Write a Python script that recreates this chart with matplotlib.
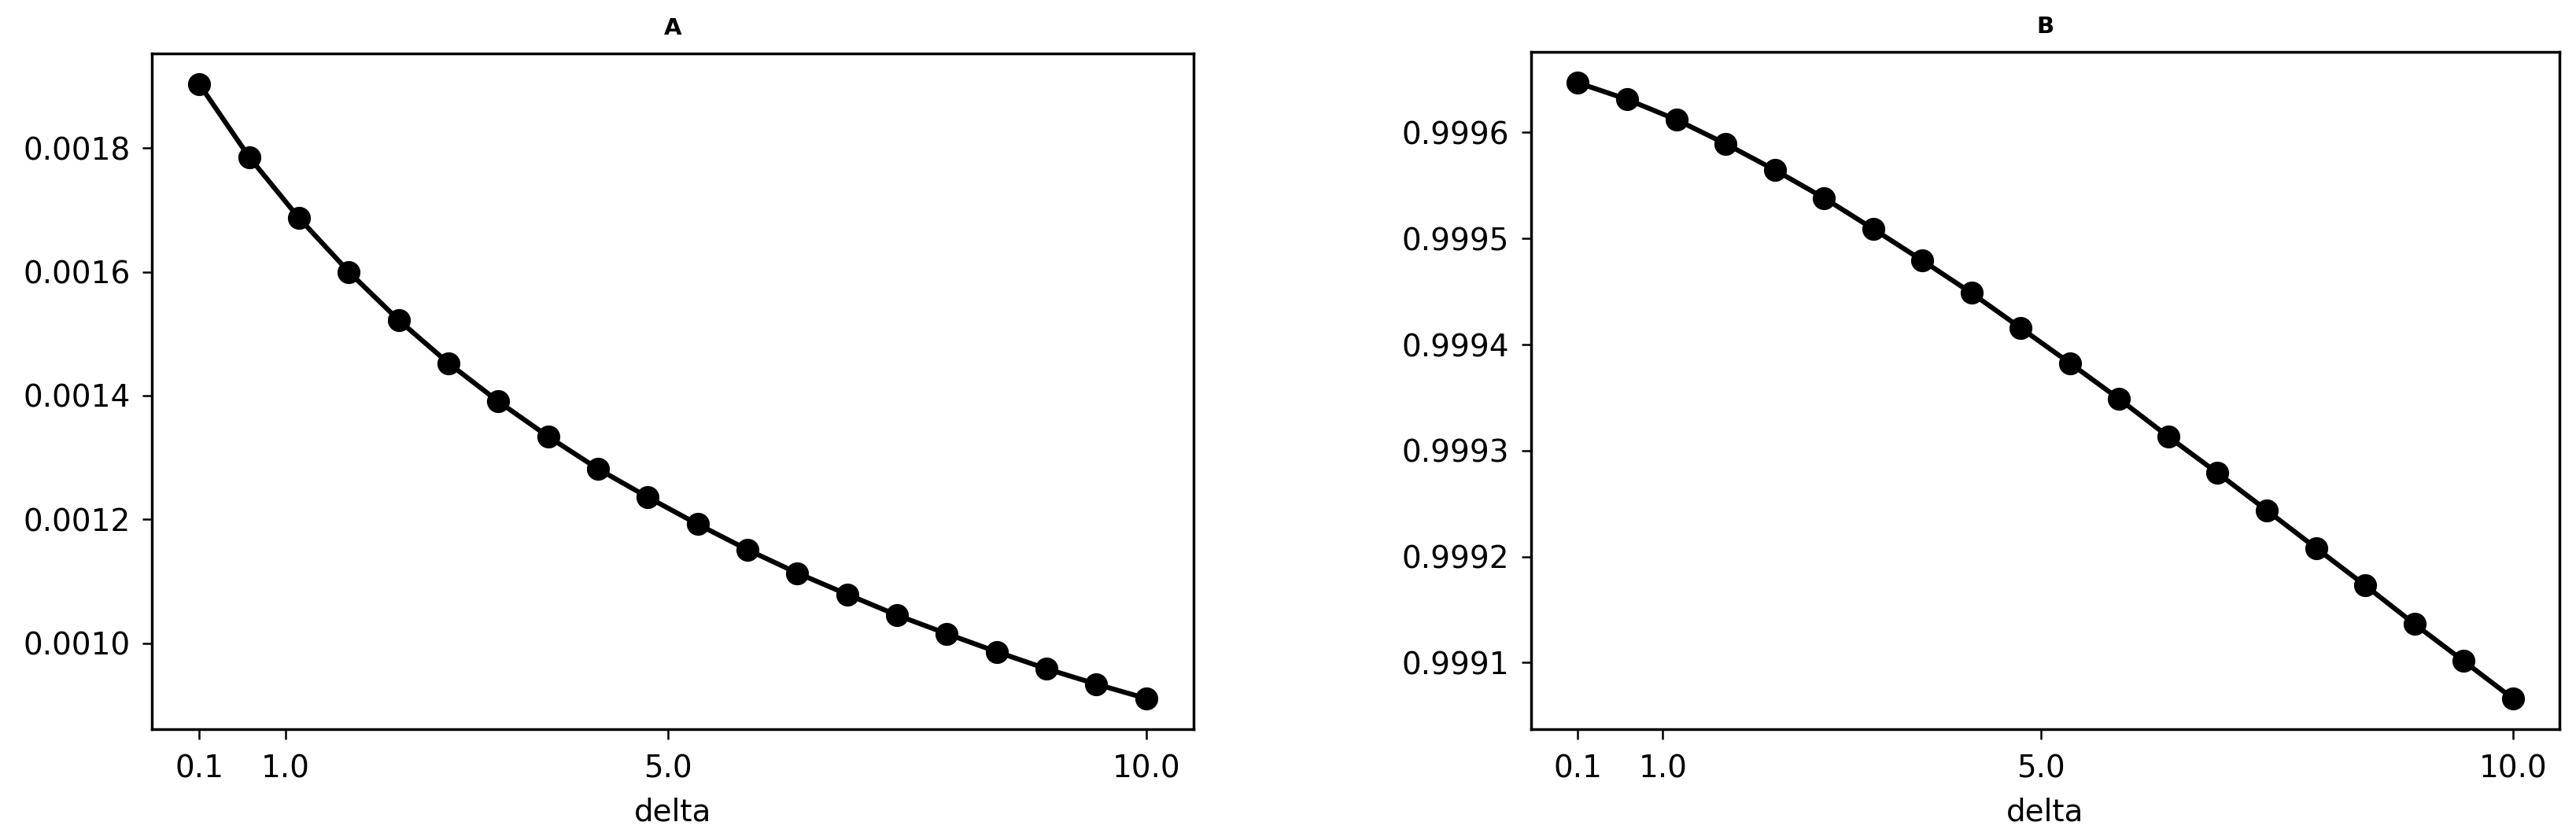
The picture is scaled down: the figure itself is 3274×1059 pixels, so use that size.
import matplotlib
matplotlib.use('Agg')
import matplotlib.pyplot as plt
from matplotlib.ticker import FormatStrFormatter

delta = [0.1, 0.621, 1.142, 1.663, 2.184, 2.705, 3.226, 3.747, 4.268, 4.789,
         5.311, 5.832, 6.353, 6.874, 7.395, 7.916, 8.437, 8.958, 9.479, 10.0]

a_vals = [0.001903, 0.0017854, 0.0016868, 0.0016000, 0.0015220, 0.0014525,
          0.0013906, 0.0013340, 0.0012817, 0.0012360, 0.0011923, 0.0011511,
          0.0011134, 0.0010791, 0.0010454, 0.0010154, 0.0009863, 0.0009588,
          0.0009340, 0.0009108]

b_vals = [0.9996469, 0.9996312, 0.9996121, 0.9995894, 0.9995647, 0.9995383,
          0.9995091, 0.9994793, 0.9994486, 0.9994156, 0.9993824, 0.9993486,
          0.9993131, 0.9992788, 0.9992436, 0.9992081, 0.9991728, 0.9991365,
          0.9991015, 0.9990662]

xticks = [0.1, 1.0, 5.0, 10.0]
xtick_labels = ['0.1', '1.0', '5.0', '10.0']

fig = plt.figure(figsize=[32.74, 10.59], dpi=100)
ax_a = fig.add_axes([0.0590, 0.1246, 0.4043, 0.8112])
ax_b = fig.add_axes([0.5944, 0.1246, 0.3992, 0.8130])

for ax, vals, title in [(ax_a, a_vals, 'A'), (ax_b, b_vals, 'B')]:
    ax.plot(delta, vals, color='black', linewidth=4.5, marker='o', markersize=20)
    ax.set_title(title, fontsize=21, fontweight='bold', pad=17)
    ax.set_xticks(xticks)
    ax.set_xticklabels(xtick_labels)
    ax.set_xlabel('delta', fontsize=28, labelpad=12)
    ax.tick_params(labelsize=28, length=9, width=1.8, pad=11)
    ax.tick_params(axis='x', pad=14)
    ax.yaxis.set_major_formatter(FormatStrFormatter('%.4f'))
    for s in ax.spines.values():
        s.set_linewidth(2.5)

fig.savefig('out.png')
